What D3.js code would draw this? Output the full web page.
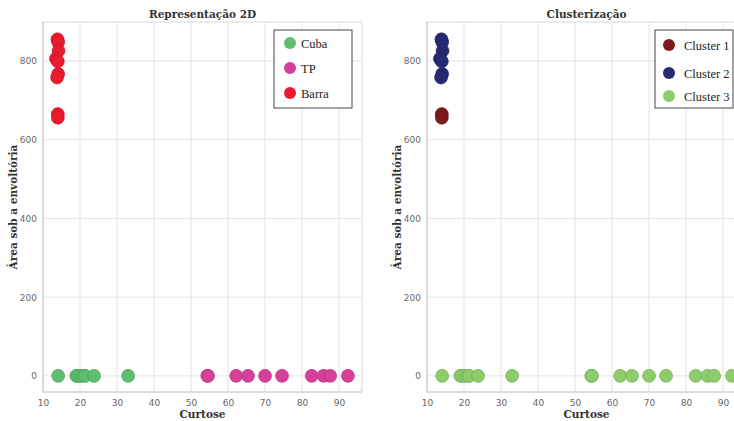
<!DOCTYPE html>
<html>
<head>
<meta charset="utf-8">
<script src="https://cdn.jsdelivr.net/npm/d3@7"></script>
<style>
  html, body { margin: 0; padding: 0; background: #fff; }
  svg { display: block; }
  .legend-text { font-family: "Liberation Serif", "Times New Roman", Times, serif; }
</style>
</head>
<body>
<svg id="chart" width="734" height="421"></svg>
<script>
// Kurtosis (x) and area under the envelope (y) per signal group
const cubaX  = [14.1, 19.0, 19.5, 20.3, 21.0, 21.4, 23.8, 33.0];
const cubaY  = [0, 0, 0, 0, 0, 0, 0, 0];
const tpX    = [54.4, 54.6, 62.2, 65.4, 70.0, 74.6, 82.6, 85.8, 87.6, 92.4];
const tpY    = [0, 0, 0, 0, 0, 0, 0, 0, 0, 0];
const barraX = [13.9, 14.1, 14.2, 13.5, 14.0, 14.1, 13.8, 14.0, 14.0];
const barraY = [855, 848, 826, 806, 799, 767, 758, 665, 656];

// Cluster assignment for the same points (Cuba, TP, Barra order)
const cubaCluster  = [3, 3, 3, 3, 3, 3, 3, 3];
const tpCluster    = [3, 3, 3, 3, 3, 3, 3, 3, 3, 3];
const barraCluster = [2, 2, 2, 2, 2, 2, 2, 1, 1];

const groupNames   = ["Cuba", "TP", "Barra"];
const groupColors  = ["#5ebd6e", "#d63f9a", "#ea1b2f"];
const clusterNames = ["Cluster 1", "Cluster 2", "Cluster 3"];
const clusterColors = ["#7a1a1d", "#262a72", "#8ccc6a"];

const xTicks = [10, 20, 30, 40, 50, 60, 70, 80, 90];
const yTicks = [0, 200, 400, 600, 800];

const svg = d3.select("#chart");

const points = [];
[[cubaX, cubaY, cubaCluster, 0], [tpX, tpY, tpCluster, 1], [barraX, barraY, barraCluster, 2]]
  .forEach(([xs, ys, cs, g]) => xs.forEach((x, i) => points.push({ x, y: ys[i], group: g, cluster: cs[i] })));

function panel(opts) {
  const { left, right, top, bottom, title, colorOf, legend, legendBox } = opts;
  const x = d3.scaleLinear().domain([10, 96.2]).range([left, right]);
  const y = d3.scaleLinear().domain([-41, 899]).range([bottom, top]);
  const g = svg.append("g");

  // grid
  g.append("g").selectAll("line").data(xTicks).join("line")
    .attr("x1", d => x(d)).attr("x2", d => x(d))
    .attr("y1", top).attr("y2", bottom)
    .attr("stroke", "#e3e3e3").attr("stroke-width", 1);
  g.append("g").selectAll("line").data(yTicks).join("line")
    .attr("x1", left).attr("x2", right)
    .attr("y1", d => y(d)).attr("y2", d => y(d))
    .attr("stroke", "#e3e3e3").attr("stroke-width", 1);

  // frame
  g.append("rect").attr("x", left).attr("y", top)
    .attr("width", right - left).attr("height", bottom - top)
    .attr("fill", "none").attr("stroke", "#e0e0e0").attr("stroke-width", 1.2);
  g.append("line").attr("x1", left).attr("x2", left).attr("y1", top).attr("y2", bottom)
    .attr("stroke", "#dcdcdc").attr("stroke-width", 2.2);
  g.append("line").attr("x1", left).attr("x2", right).attr("y1", bottom).attr("y2", bottom)
    .attr("stroke", "#dcdcdc").attr("stroke-width", 2.2);

  // axes
  const xa = g.append("g").attr("transform", `translate(0,${bottom})`)
    .call(d3.axisBottom(x).tickValues(xTicks).tickSize(0).tickPadding(8));
  const ya = g.append("g").attr("transform", `translate(${left},0)`)
    .call(d3.axisLeft(y).tickValues(yTicks).tickSize(0).tickPadding(6));
  [xa, ya].forEach(a => {
    a.select(".domain").remove();
    a.selectAll("text").attr("fill", "#666").attr("font-size", 9)
      .attr("font-family", "'DejaVu Sans', sans-serif");
  });

  // points
  g.append("g").selectAll("circle").data(points).join("circle")
    .attr("cx", d => x(d.x)).attr("cy", d => y(d.y)).attr("r", 6.5)
    .attr("fill", colorOf).attr("stroke", d => d3.color(colorOf(d)).darker(0.6))
    .attr("stroke-width", 0.6);

  // titles
  const cx = (left + 362 - 43 + left) / 2;
  g.append("text").attr("x", cx).attr("y", 18).attr("text-anchor", "middle")
    .attr("font-family", "'DejaVu Serif', serif").attr("font-weight", "bold")
    .attr("font-size", 10.5).attr("fill", "#333").text(title);
  g.append("text").attr("x", cx).attr("y", 418).attr("text-anchor", "middle")
    .attr("font-family", "'DejaVu Serif', serif").attr("font-weight", "bold")
    .attr("font-size", 10.5).attr("fill", "#333").text("Curtose");
  g.append("text").attr("transform", `translate(${left - 26},${(top + bottom) / 2}) rotate(-90)`)
    .attr("text-anchor", "middle")
    .attr("font-family", "'DejaVu Serif', serif").attr("font-weight", "bold")
    .attr("font-size", 10.5).attr("fill", "#333").text("Área sob a envoltória");

  // legend
  const lg = g.append("g");
  lg.append("rect").attr("x", legendBox.x).attr("y", legendBox.y)
    .attr("width", legendBox.w).attr("height", legendBox.h)
    .attr("fill", "#fff").attr("stroke", "#444").attr("stroke-width", 1);
  legend.names.forEach((n, i) => {
    const yy = legendBox.y + legend.rows[i];
    lg.append("circle").attr("cx", legendBox.x + legend.mx).attr("cy", yy).attr("r", 6)
      .attr("fill", legend.colors[i]);
    lg.append("text").attr("class", "legend-text")
      .attr("x", legendBox.x + legend.tx).attr("y", yy + 4.5)
      .attr("font-size", 12.5).attr("fill", "#222").text(n);
  });
}

panel({
  left: 43, right: 362, top: 22, bottom: 392,
  title: "Representação 2D",
  colorOf: d => groupColors[d.group],
  legend: { names: groupNames, colors: groupColors, rows: [13, 38, 63], mx: 16, tx: 27 },
  legendBox: { x: 274, y: 30, w: 78, h: 78 }
});

panel({
  left: 427, right: 746, top: 22, bottom: 392,
  title: "Clusterização",
  colorOf: d => clusterColors[d.cluster - 1],
  legend: { names: clusterNames, colors: clusterColors, rows: [15, 43, 66], mx: 14, tx: 29 },
  legendBox: { x: 655, y: 30, w: 78, h: 78 }
});
</script>
</body>
</html>
